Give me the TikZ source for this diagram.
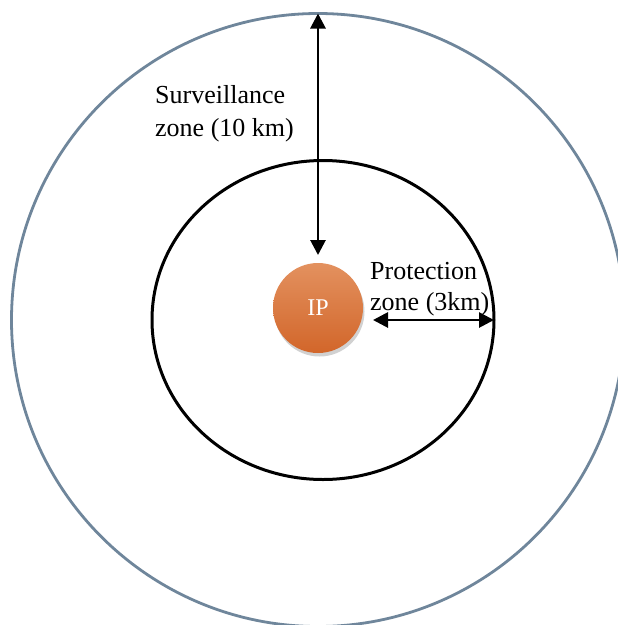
\documentclass[tikz,border=0pt]{standalone}
\usepackage{fontspec}
\setmainfont{Liberation Serif}
\usetikzlibrary{arrows.meta,shapes.geometric,shadows}
\definecolor{outerc}{HTML}{6F869B}
\definecolor{iptop}{HTML}{E3915F}
\definecolor{ipbot}{HTML}{D2662A}
\tikzset{
  zone/.style={draw, line width=3pt, inner sep=0pt, outer sep=0pt},
  dimarrow/.style={line width=2.8pt, {Triangle[length=15pt,width=15pt]}-{Triangle[length=15pt,width=15pt]}},
  lbl/.style={inner sep=0pt, align=left, anchor=north west, font=\fontsize{26}{33}\selectfont}
}
\begin{document}
\begin{tikzpicture}[x=1pt,y=-1pt]
\useasboundingbox (0,0) rectangle (618,625);
\clip (0,0) rectangle (618,625);
\node[zone, draw=outerc, line width=2.8pt, circle, minimum size=613pt] (outer) at (318,320) {};
\node[zone, draw=black, ellipse, minimum width=342pt, minimum height=319pt] (inner) at (323,320) {};
\node[circle, minimum size=90pt, inner sep=0pt, top color=iptop, bottom color=ipbot,
      drop shadow={shadow xshift=1.5pt, shadow yshift=-3.5pt, opacity=0.3, fill=black!60},
      text=white, font=\fontsize{24}{28}\selectfont] (ip) at (318,308) {IP};
\coordinate (vend) at (318,255);
\coordinate (hstart) at (373,320);
\draw[dimarrow] (outer.north) -- (vend);
\draw[dimarrow] (hstart) -- (inner.east);
\node[lbl] (surv) at (155,85) {Surveillance\\zone (10 km)};
\node[lbl, font=\fontsize{26}{31}\selectfont] (prot) at (370,262) {Protection\\zone (3km)};
\end{tikzpicture}
\end{document}
